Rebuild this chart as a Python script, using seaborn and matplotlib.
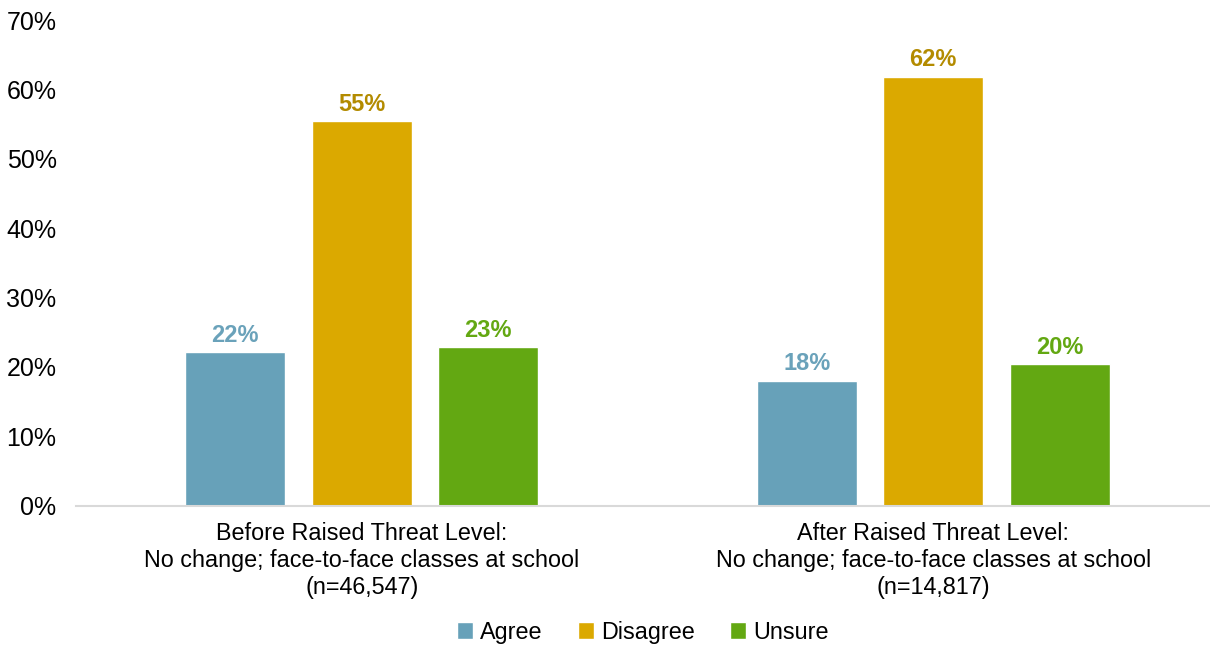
import matplotlib
matplotlib.use("Agg")
import matplotlib.pyplot as plt
import seaborn as sns
import pandas as pd
from matplotlib.ticker import FuncFormatter

categories = ["Before Raised Threat Level:\nNo change; face-to-face classes at school\n(n=46,547)",
              "After Raised Threat Level:\nNo change; face-to-face classes at school\n(n=14,817)"]
responses = ["Agree", "Disagree", "Unsure"]
agree = [22.1, 18.0]
disagree = [55.4, 61.8]
unsure = [22.8, 20.4]
colors = ["#67a1b9", "#dba900", "#63a812"]
label_colors = ["#6aa2ba", "#b38b00", "#63a812"]
yticks = [0, 10, 20, 30, 40, 50, 60, 70]

rows = []
for i, c in enumerate(categories):
    rows.append((c, "Agree", agree[i]))
    rows.append((c, "Disagree", disagree[i]))
    rows.append((c, "Unsure", unsure[i]))
df = pd.DataFrame(rows, columns=["category", "response", "value"])

sns.set_theme(style="white")
plt.rcParams['font.family'] = ['Liberation Sans', 'DejaVu Sans']
plt.rcParams['text.color'] = 'black'

fig = plt.figure(figsize=(12.1, 6.49), dpi=100)
ax = fig.add_axes([0.0628, 0.221, 0.937, 0.748])
sns.barplot(data=df, x="category", y="value", hue="response", order=categories,
            hue_order=responses, palette=colors, width=0.664, gap=0.21,
            saturation=1, ax=ax, legend=True)

for cont, col in zip(ax.containers, label_colors):
    ax.bar_label(cont, labels=[f"{v:.0f}%" for v in cont.datavalues], padding=4,
                 color=col, fontsize=17, fontweight="bold")

ax.set_ylim(0, 70)
ax.set_xlim(-0.5, 1.484)
ax.set_yticks(yticks)
ax.yaxis.set_major_formatter(FuncFormatter(lambda v, p: f"{v:.0f}%"))
ax.set_xlabel("")
ax.set_ylabel("")
for s in ["top", "right", "left"]:
    ax.spines[s].set_visible(False)
ax.spines["bottom"].set_color("#d9d9d9")
ax.spines["bottom"].set_linewidth(1.5)
ax.tick_params(axis="y", length=0, pad=14, labelsize=18, labelcolor="#000000")
ax.tick_params(axis="x", length=0, pad=12, labelsize=16.8, labelcolor="#000000")
for t in ax.get_xticklabels():
    t.set_linespacing(1.22)

ax.legend(loc="center", bbox_to_anchor=(0.5, -0.261), ncol=3, frameon=False,
          fontsize=16.8, handlelength=0.7, handleheight=0.7, handletextpad=0.3,
          columnspacing=1.5, borderaxespad=0, labelcolor="black")

fig.savefig("out.png", dpi=100)
